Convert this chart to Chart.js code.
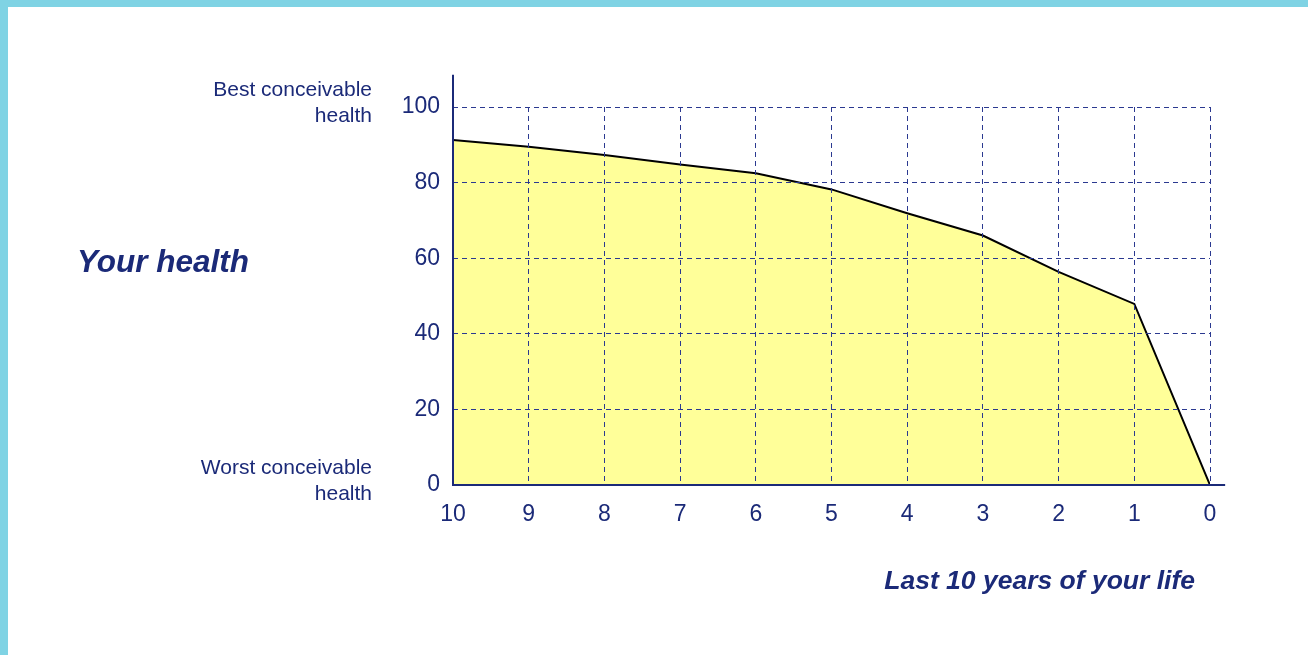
<!DOCTYPE html>
<html>
<head>
<meta charset="utf-8">
<script src="https://cdn.jsdelivr.net/npm/chart.js@4"></script>
<style>
  html, body { margin: 0; padding: 0; background: #fff; }
  #wrap { position: relative; width: 1308px; height: 655px; overflow: hidden; }
  #topBar { position: absolute; left: 0; top: 0; width: 1308px; height: 7px; background: #7fd3e4; }
  #leftBar { position: absolute; left: 0; top: 0; width: 8px; height: 655px; background: #7fd3e4; }
  canvas { position: absolute; left: 0; top: 0; }
</style>
</head>
<body>
<div id="wrap">
  <canvas id="healthChart" width="1308" height="655"></canvas>
  <div id="topBar"></div>
  <div id="leftBar"></div>
</div>
<script>
const yearsLeft = [10, 9, 8, 7, 6, 5, 4, 3, 2, 1, 0];
const healthValues = [91.3, 89.5, 87.3, 84.8, 82.5, 78.2, 71.9, 66.0, 56.4, 47.9, 0];
const yTicks = [0, 20, 40, 60, 80, 100];
const bestLabel = ["Best conceivable", "health"];
const worstLabel = ["Worst conceivable", "health"];
const yTitle = "Your health";
const xTitle = "Last 10 years of your life";

const NAVY = "#1b2a78";
const GRID = "#2b3990";
const FONT = "'Liberation Sans', Arial, Helvetica, sans-serif";

// axis lines run a little past the last grid line, as in the original
const axisExtras = {
  id: "axisExtras",
  afterDraw(chart) {
    const { ctx, scales: { x, y } } = chart;
    const x0 = x.getPixelForValue(10);
    const x1 = x.getPixelForValue(-0.2);
    const yb = y.getPixelForValue(0);
    const yt = y.getPixelForValue(108.5);
    ctx.save();
    ctx.strokeStyle = NAVY;
    ctx.lineWidth = 2;
    ctx.setLineDash([]);
    ctx.beginPath();
    ctx.moveTo(x0, yt);
    ctx.lineTo(x0, yb);
    ctx.lineTo(x1, yb);
    ctx.stroke();

    ctx.fillStyle = NAVY;
    ctx.textBaseline = "middle";
    ctx.textAlign = "right";
    ctx.font = `21px ${FONT}`;
    const y100 = y.getPixelForValue(100);
    const y0 = y.getPixelForValue(0);
    ctx.fillText(bestLabel[0], 372, y100 - 17);
    ctx.fillText(bestLabel[1], 372, y100 + 9);
    ctx.fillText(worstLabel[0], 372, y0 - 17);
    ctx.fillText(worstLabel[1], 372, y0 + 9);

    ctx.textAlign = "left";
    ctx.font = `italic bold 31.5px ${FONT}`;
    ctx.fillText(yTitle, 77, 263);

    ctx.textAlign = "right";
    ctx.font = `italic bold 26.5px ${FONT}`;
    ctx.fillText(xTitle, 1195, 582);
    ctx.restore();
  },
};

new Chart(document.getElementById("healthChart"), {
  type: "line",
  data: {
    datasets: [{
      data: yearsLeft.map((yr, i) => ({ x: yr, y: healthValues[i] })),
      borderColor: "#000",
      borderWidth: 2,
      backgroundColor: "#ffff99",
      fill: "origin",
      pointRadius: 0,
      tension: 0,
    }],
  },
  options: {
    responsive: false,
    animation: false,
    layout: { padding: { top: 107, right: 98, left: 0, bottom: 0 } },
    plugins: { legend: { display: false }, tooltip: { enabled: false } },
    scales: {
      x: {
        type: "linear",
        reverse: true,
        min: 0,
        max: 10,
        afterFit: (s) => { s.height = 170; },
        ticks: { stepSize: 1, color: NAVY, font: { family: FONT, size: 23 }, padding: 16 },
        grid: { color: GRID, lineWidth: 1, drawTicks: false, z: 1 },
        border: { display: false, dash: [5, 4] },
      },
      y: {
        min: 0,
        max: 100,
        afterFit: (s) => { s.width = 453; },
        afterBuildTicks: (s) => { s.ticks = yTicks.map((v) => ({ value: v })); },
        ticks: { color: NAVY, font: { family: FONT, size: 23 }, padding: 13 },
        grid: { color: GRID, lineWidth: 1, drawTicks: false, z: 1 },
        border: { display: false, dash: [5, 4] },
      },
    },
  },
  plugins: [axisExtras],
});
</script>
</body>
</html>
